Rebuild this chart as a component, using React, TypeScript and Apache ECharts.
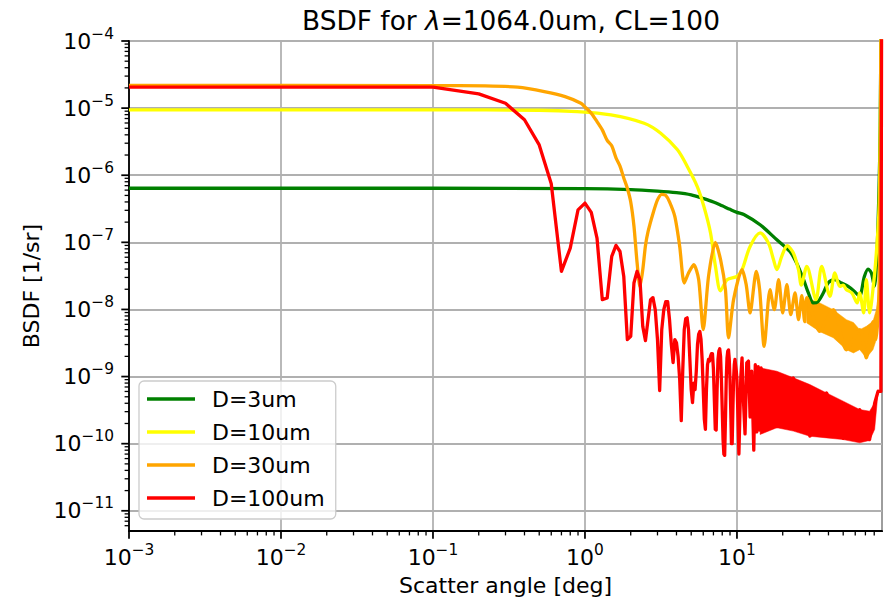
import React, { useEffect, useRef } from 'react';
import * as echarts from 'echarts';

const FONT = 'DejaVu Sans';

const seriesNames = ['D=3um', 'D=10um', 'D=30um', 'D=100um'];
const seriesColors = ['#008000', '#ffff00', '#ffa500', '#ff0000'];

// D=3um
const greenX = [0.001, 0.1, 1.0, 2.0, 3.0, 4.0, 5.0, 6.0, 7.0, 8.0, 9.0, 10.0, 11.1, 14.2, 18.3, 22.3, 24.7, 27.4, 29.5, 31.8, 34.0, 37.0, 39.9, 43.9, 48.7, 53.9, 59.3, 63.9, 68.9, 72.9, 76.6, 80.2, 83.4, 86.0, 87.5, 89.9];
const greenY = [6.4e-7, 6.4e-7, 6.3e-7, 6.1e-7, 5.8e-7, 5.5e-7, 5.1e-7, 4.5e-7, 4.0e-7, 3.5e-7, 3.1e-7, 2.8e-7, 2.6e-7, 1.83e-7, 1.09e-7, 7.3e-8, 4.9e-8, 2.8e-8, 1.76e-8, 1.25e-8, 1.3e-8, 1.76e-8, 2.5e-8, 2.78e-8, 2.48e-8, 2.2e-8, 1.86e-8, 1.57e-8, 3.1e-8, 4.0e-8, 3.5e-8, 2.2e-8, 7.0e-8, 6.1e-7, 5e-6, 1e-2];

// D=10um
const yellowX = [0.001, 0.1, 0.5, 0.89, 1.48, 2.45, 3.15, 4.06, 4.71, 5.48, 6.06, 6.7, 7.22, 7.8, 8.61, 10.0, 10.8, 12.2, 14.2, 16.1, 17.4, 18.3, 19.7, 21.4, 23.5, 25.4, 26.5, 28.8, 33.1, 36.1, 40.9, 44.1, 47.5, 50.0, 52.5, 57.0, 61.8, 64.1, 68.2, 71.0, 74.6, 79.3, 82.6, 86.0, 87.5, 89.9];
const yellowY = [9.4e-6, 9.4e-6, 9.3e-6, 8.87e-6, 7.93e-6, 5.96e-6, 4.23e-6, 2.39e-6, 1.35e-6, 6.79e-7, 3.42e-7, 1.38e-7, 4.38e-8, 1.9e-8, 2.78e-8, 3.11e-8, 3.91e-8, 8.69e-8, 1.38e-7, 9.77e-8, 5.51e-8, 3.91e-8, 6.17e-8, 8.9e-8, 6.93e-8, 3.91e-8, 2.3e-8, 4.38e-8, 1.4e-8, 4.38e-8, 1.57e-8, 3.49e-8, 2.2e-8, 2.3e-8, 1.97e-8, 1.76e-8, 1.25e-8, 1.76e-8, 8.87e-9, 2.78e-8, 8.87e-9, 2.48e-8, 6.93e-8, 3.05e-7, 3e-6, 1e-2];

// D=30um
const orangeX = [0.001, 0.1, 0.22, 0.36, 0.54, 0.74, 0.94, 1.0, 1.1, 1.2, 1.3, 1.4, 1.5, 1.6, 1.7, 1.8, 1.9, 2.0, 2.1, 2.2, 2.3, 2.4, 2.5, 2.6, 2.8, 3.0, 3.2, 3.4, 3.6, 3.9, 4.2, 4.5, 4.8, 5.2, 5.6, 6.0, 6.5, 7.2, 7.8, 8.4, 8.8, 9.5, 10.8, 11.5, 12.2, 13.4, 14.1, 15.1, 16.5, 17.6, 18.8, 20.0, 21.3, 22.6, 24.1, 25.4, 26.7, 27.9, 28.8, 35.1, 43.0, 52.5, 64.2, 71.0, 78.5, 82.6, 86.0, 87.5, 89.9];
const orangeY = [2.18e-5, 2.17e-5, 2.14e-5, 2.05e-5, 1.76e-5, 1.48e-5, 1.18e-5, 1.04e-5, 8.4e-6, 6.3e-6, 4.74e-6, 3.3e-6, 2.75e-6, 1.82e-6, 1.37e-6, 9.1e-7, 6.4e-7, 4.0e-7, 1.75e-7, 5.1e-8, 2.18e-8, 3.9e-8, 8.9e-8, 1.44e-7, 2.67e-7, 4.3e-7, 5.2e-7, 5.0e-7, 4.0e-7, 2.43e-7, 8.7e-8, 2.48e-8, 3.49e-8, 4.64e-8, 2.78e-8, 5.0e-9, 3.11e-8, 9.97e-8, 5.51e-8, 1.97e-8, 3.77e-9, 1.4e-8, 3.91e-8, 2.34e-8, 8.87e-9, 3.69e-8, 1.97e-8, 2.82e-9, 1.97e-8, 9.93e-9, 2.78e-8, 8.87e-9, 2.34e-8, 8.37e-9, 1.76e-8, 7.05e-9, 1.6e-8, 6.58e-9, 1.5e-8, 4.7e-9, 9.9e-9, 2.5e-9, 5.0e-9, 1.9e-9, 6.6e-9, 3.6e-9, 2.0e-8, 5e-7, 1e-2];
const orangeBandX = [28.8, 35.1, 43.0, 52.5, 58.4, 64.2, 71.0, 78.5, 82.6, 86.0];
const orangeBandHi = [1.5e-8, 1.25e-8, 9.9e-9, 7.05e-9, 6.4e-9, 5.0e-9, 5.6e-9, 6.65e-9, 9.9e-9, 1.97e-8];
const orangeBandLo = [6.3e-9, 4.67e-9, 3.8e-9, 2.52e-9, 2.25e-9, 2.52e-9, 1.9e-9, 2.52e-9, 3.56e-9, 9.9e-9];

// D=100um
const redX = [0.001, 0.1, 0.2, 0.3, 0.4, 0.5, 0.6, 0.7, 0.8, 0.9, 1.0, 1.1, 1.2, 1.3, 1.4, 1.5, 1.6, 1.7, 1.8, 1.9, 2.0, 2.1, 2.2, 2.3, 2.4, 2.5, 2.6, 2.7, 2.8, 2.9, 3.0, 3.1, 3.2, 3.3, 3.4, 3.5, 3.6, 3.7, 3.8, 3.9, 4.0, 4.1, 4.2, 4.3, 4.4, 4.5, 4.6, 4.7, 4.8, 4.9, 5.0, 5.1, 5.2, 5.3, 5.4, 5.5, 5.6, 5.7, 5.8, 5.9, 6.0, 6.1, 6.2, 6.3, 6.4, 6.5, 6.6, 6.7, 6.8, 6.9, 7.0, 7.1, 7.2, 7.3, 7.4, 7.5, 7.6, 7.7, 7.8, 7.9, 8.0, 8.1, 8.2, 8.3, 8.4, 8.5, 8.6, 8.7, 8.8, 8.9, 9.0, 9.1, 9.2, 9.3, 9.4, 9.5, 9.6, 9.7, 9.8, 9.9, 10.0, 10.3, 10.6, 10.8, 11.0, 11.3, 11.6, 11.9, 12.2, 12.5, 12.9, 13.2, 13.5, 13.8, 14.1, 14.4, 18.3, 23.5, 30.2, 38.9, 50.0, 64.2, 74.6, 80.5, 84.7, 87.0, 88.5, 89.9];
const redY = [2.05e-5, 2.05e-5, 1.63e-5, 1.18e-5, 6.7e-6, 2.83e-6, 7.45e-7, 3.69e-8, 8.2e-8, 3.05e-7, 3.84e-7, 2.79e-7, 1.16e-7, 1.4e-8, 1.48e-8, 6.17e-8, 9.0e-8, 7.3e-8, 3.11e-8, 3.56e-9, 3.98e-9, 2.48e-8, 3.69e-8, 2.78e-8, 5.6e-9, 3.43e-9, 7.05e-9, 1.4e-8, 1.5e-8, 9.9e-9, 3.56e-9, 6.2e-10, 5.0e-9, 9.9e-9, 1.31e-8, 1.31e-8, 7.05e-9, 3.0e-9, 1.62e-9, 3.56e-9, 3.2e-9, 2.0e-9, 9.0e-10, 2.2e-10, 1.27e-9, 5.0e-9, 7.3e-9, 7.5e-9, 5.0e-9, 1.79e-9, 6.4e-10, 4.1e-10, 8.0e-10, 6.4e-10, 1.2e-9, 3.0e-9, 4.3e-9, 4.7e-9, 3.6e-9, 1.8e-9, 6.4e-10, 2.3e-10, 1.63e-10, 6.4e-10, 1.5e-9, 1.8e-9, 1.7e-9, 2.0e-9, 2.2e-9, 2.2e-9, 1.3e-9, 4.5e-10, 1.63e-10, 1.6e-10, 6.4e-10, 1.8e-9, 2.4e-9, 2.6e-9, 2.0e-9, 9.0e-10, 3.2e-10, 1.15e-10, 7.0e-11, 6.7e-11, 2.3e-10, 9.0e-10, 1.9e-9, 2.4e-9, 2.5e-9, 1.8e-9, 9.0e-10, 3.2e-10, 1.0e-10, 1.0e-10, 3.2e-10, 9.0e-10, 1.5e-9, 1.8e-9, 1.8e-9, 1.2e-9, 9.0e-10, 7.0e-11, 1.0e-9, 1.9e-9, 5.0e-10, 1.4e-10, 1.6e-9, 1.7e-9, 2.5e-10, 1.2e-9, 8.0e-11, 1.5e-9, 1.5e-10, 1.4e-9, 1.6e-10, 1.35e-9, 1.8e-10, 9.5e-10, 1.3e-10, 5.7e-10, 1.2e-10, 3.2e-10, 1.15e-10, 4.0e-10, 6.0e-10, 6.0e-10, 6.0e-10, 1e-1];
const redBandX = [14.2, 18.3, 23.5, 30.2, 38.9, 50.0, 64.2, 74.6, 80.5, 84.7];
const redBandHi = [1.35e-9, 1.2e-9, 9.6e-10, 7.6e-10, 5.7e-10, 4.3e-10, 3.23e-10, 3.05e-10, 4.06e-10, 6.4e-10];
const redBandLo = [1.37e-10, 1.73e-10, 1.54e-10, 1.29e-10, 1.22e-10, 1.15e-10, 1.03e-10, 1.12e-10, 1.63e-10, 5.7e-10];

// axes
const xMin = 0.001;
const xMax = 90;
const yMin = 5e-12;
const yMax = 1e-4;
const xMajorTicks = [0.001, 0.01, 0.1, 1, 10];
const yMajorTicks = [1e-11, 1e-10, 1e-9, 1e-8, 1e-7, 1e-6, 1e-5, 1e-4];
const minorSubs = [2, 3, 4, 5, 6, 7, 8, 9];
const xMinorDecades = [0.001, 0.01, 0.1, 1, 10];
const yMinorDecades = [1e-12, 1e-11, 1e-10, 1e-9, 1e-8, 1e-7, 1e-6, 1e-5];

const zip = (xs: number[], ys: number[]) => xs.map((x, i) => [x, ys[i]]);

function lineSeries(i: number, xs: number[], ys: number[], smooth: number | boolean) {
  return {
    type: 'line',
    name: seriesNames[i],
    data: zip(xs, ys),
    showSymbol: false,
    symbol: 'none',
    smooth,
    clip: true,
    color: seriesColors[i],
    itemStyle: { color: seriesColors[i] },
    lineStyle: { color: seriesColors[i], width: 3.3, join: 'round' },
    emphasis: { disabled: true },
    silent: true,
  };
}

function bandSeries(color: string, xs: number[], hi: number[], lo: number[]) {
  return {
    type: 'custom',
    name: 'band-' + color,
    coordinateSystem: 'cartesian2d',
    silent: true,
    data: [[xs[0], hi[0]]],
    encode: { x: 0, y: 1 },
    renderItem: (_p: any, api: any) => {
      const pts: number[][] = [];
      for (let k = 0; k < xs.length; k++) pts.push(api.coord([xs[k], hi[k]]));
      for (let k = xs.length - 1; k >= 0; k--) pts.push(api.coord([xs[k], lo[k]]));
      return { type: 'polygon', shape: { points: pts }, style: { fill: color, stroke: color, lineWidth: 0.5 } };
    },
  };
}

const tickSeries = () => {
  const data: number[][] = [];
  xMajorTicks.forEach((v) => data.push([v, yMin, 0, 7.7, 1.76]));
  xMinorDecades.forEach((d) => minorSubs.forEach((s) => { const v = d * s; if (v < xMax) data.push([v, yMin, 0, 4.4, 1.3]); }));
  yMajorTicks.forEach((v) => data.push([xMin, v, 1, 7.7, 1.76]));
  yMinorDecades.forEach((d) => minorSubs.forEach((s) => { const v = d * s; if (v > yMin && v < yMax) data.push([xMin, v, 1, 4.4, 1.3]); }));
  return {
    type: 'custom',
    name: 'ticks',
    coordinateSystem: 'cartesian2d',
    silent: true,
    clip: false,
    data,
    encode: { x: 0, y: 1 },
    renderItem: (_p: any, api: any) => {
      const p = api.coord([api.value(0), api.value(1)]);
      const isY = api.value(2) === 1;
      const len = api.value(3);
      const w = api.value(4);
      const shape = isY
        ? { x1: p[0] - len, y1: p[1], x2: p[0], y2: p[1] }
        : { x1: p[0], y1: p[1], x2: p[0], y2: p[1] + len };
      return { type: 'line', shape, style: { stroke: '#000', lineWidth: w } };
    },
  };
};

const fmt = (v: number) => {
  const l = Math.log10(v);
  const e = Math.round(l);
  if (Math.abs(l - e) > 1e-6) return '';
  return '{b|10}{s|' + (e < 0 ? '\u2212' : '') + Math.abs(e) + '}';
};
const labelRich = {
  b: { fontFamily: FONT, fontSize: 22, lineHeight: 30, color: '#000' },
  s: { fontFamily: FONT, fontSize: 15.4, lineHeight: 16, verticalAlign: 'top', color: '#000' },
};

const axisCommon = {
  type: 'log',
  logBase: 10,
  nameLocation: 'middle',
  nameTextStyle: { fontFamily: FONT, fontSize: 22, color: '#000' },
  axisLine: { show: true, onZero: false, lineStyle: { color: '#000', width: 1.76 } },
  axisTick: { show: false },
  minorTick: { show: false },
  splitLine: { show: true, lineStyle: { color: '#b0b0b0', width: 1.76 } },
};

export default function App() {
  const ref = useRef<HTMLDivElement>(null);
  useEffect(() => {
    const chart = echarts.init(ref.current!, null, { renderer: 'svg' });
    chart.setOption({
      animation: false,
      backgroundColor: '#ffffff',
      title: {
        text: '{n|BSDF for }{i|\u03bb}{n|=1064.0um, CL=100}',
        left: 506,
        top: 2,
        textAlign: 'center',
        textStyle: {
          fontWeight: 'normal',
          rich: {
            n: { fontFamily: FONT, fontSize: 26.4, fontWeight: 'normal', color: '#000' },
            i: { fontFamily: FONT, fontSize: 26.4, fontWeight: 'normal', fontStyle: 'italic', color: '#000' },
          },
        },
      },
      grid: { left: 129, right: -1, top: 41, bottom: 72, show: true, borderColor: '#000', borderWidth: 1.76, backgroundColor: 'transparent' },
      legend: {
        data: seriesNames,
        orient: 'vertical',
        left: 139,
        top: 381,
        padding: [7, 11, 10, 8],
        itemWidth: 48,
        itemHeight: 3.3,
        itemGap: 11,
        icon: 'rect',
        backgroundColor: 'rgba(255,255,255,0.8)',
        borderColor: '#cccccc',
        borderWidth: 1.3,
        borderRadius: 5,
        selectedMode: false,
        textStyle: { fontFamily: FONT, fontSize: 22, color: '#000', lineHeight: 22, padding: [0, 0, 0, 12] },
      },
      xAxis: {
        ...axisCommon,
        min: xMin,
        max: xMax,
        name: 'Scatter angle [deg]',
        nameGap: 43,
        axisLabel: { margin: 11, formatter: fmt, rich: labelRich },
      },
      yAxis: {
        ...axisCommon,
        min: yMin,
        max: yMax,
        name: 'BSDF [1/sr]',
        nameRotate: 90,
        nameGap: 86,
        axisLabel: { margin: 15, formatter: fmt, rich: labelRich },
      },
      series: [
        lineSeries(0, greenX, greenY, 0.3),
        lineSeries(1, yellowX, yellowY, 0.3),
        lineSeries(2, orangeX, orangeY, 0.25),
        bandSeries(seriesColors[2], orangeBandX, orangeBandHi, orangeBandLo),
        lineSeries(3, redX, redY, false),
        bandSeries(seriesColors[3], redBandX, redBandHi, redBandLo),
        tickSeries(),
      ],
    });
    return () => chart.dispose();
  }, []);
  return <div ref={ref} style={{ position: 'absolute', left: 0, top: 0, width: 885, height: 603 }} />;
}
